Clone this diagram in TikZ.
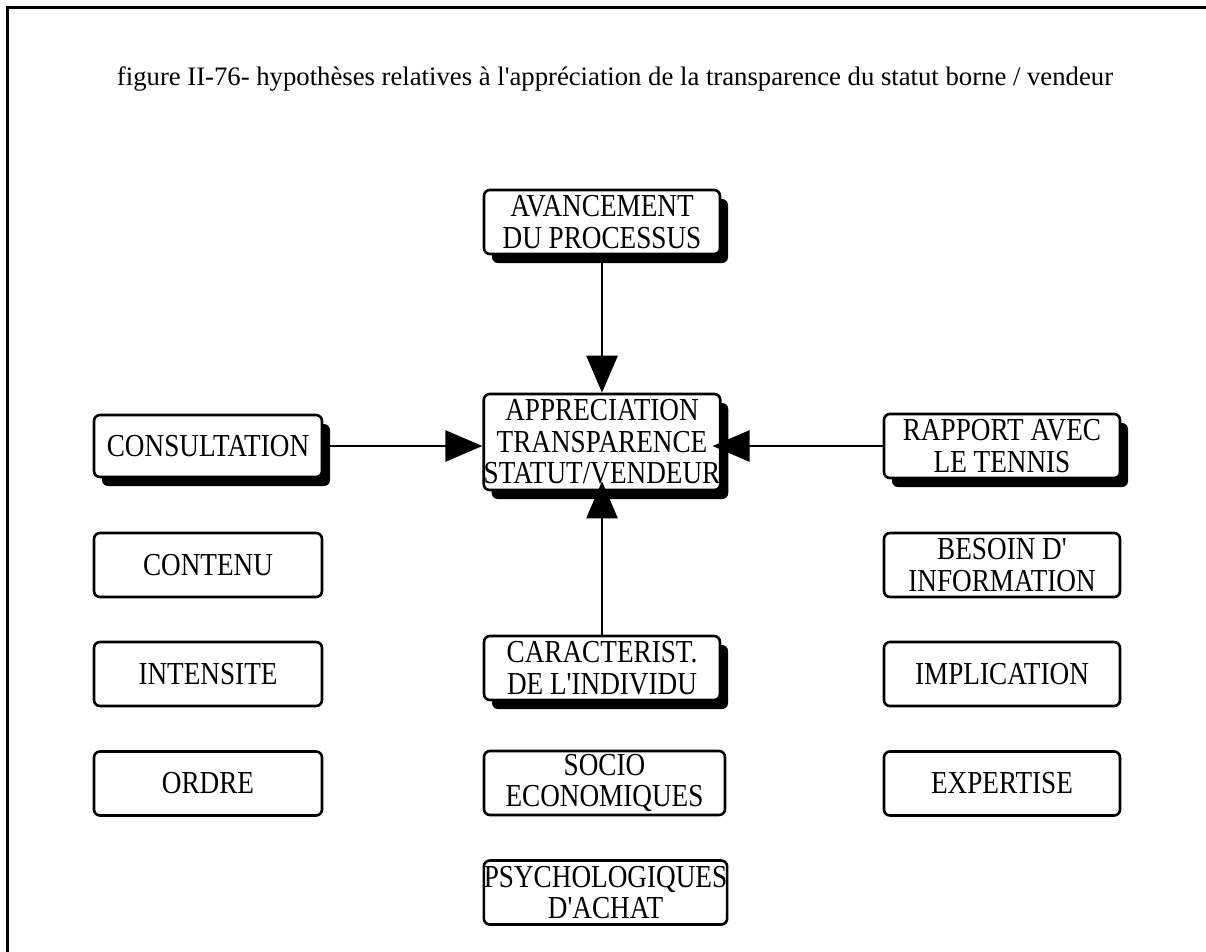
\documentclass[tikz,border=0pt]{standalone}
\usepackage{fontspec}
\setmainfont{Liberation Serif}[Ligatures=TeXOff]
\newfontfamily\boitefont{Liberation Serif}[FakeStretch=0.85,Ligatures=TeXOff]
\usetikzlibrary{arrows.meta,shadows}

\tikzset{
  boite/.style={draw,line width=2.6pt,rounded corners=6pt,fill=white,align=center,
    inner sep=0pt,minimum width=236pt,minimum height=64pt,
    font=\boitefont\fontsize{32}{31.5}\selectfont},
  ombre/.style={boite,drop shadow={shadow xshift=8pt,shadow yshift=-9pt,fill=black,opacity=1}},
  fleche/.style={line width=2.6pt,-{Triangle[length=37pt,width=31pt]}}
}

\begin{document}
\begin{tikzpicture}[x=1pt,y=-1pt]
\useasboundingbox (0,0) rectangle (1206,951);
\draw[line width=3pt] (7,7) rectangle (1240,990);

\node[anchor=base,font=\fontsize{26.7}{30}\selectfont] (titre) at (615,85)
  {figure II-76- hypothèses relatives à l'appréciation de la transparence du statut borne / vendeur};

% colonne du milieu
\node[ombre] (avancement) at (602,222) {AVANCEMENT\\DU PROCESSUS};
\node[ombre,minimum height=96pt] (appreciation) at (602,442) {APPRECIATION\\TRANSPARENCE\\STATUT/VENDEUR};
\node[ombre] (caracterist) at (602,668) {CARACTERIST.\\DE L'INDIVIDU};
\node[boite,minimum width=241pt] (socio) at (604.5,783) {SOCIO\\ECONOMIQUES};
\node[boite,minimum width=243pt] (psycho) at (605.5,892.5) {PSYCHOLOGIQUES\\D'ACHAT};

% colonne de gauche
\node[ombre,minimum width=228pt,minimum height=62pt] (consultation) at (208,446) {CONSULTATION};
\node[boite,minimum width=228pt] (contenu) at (208,565) {CONTENU};
\node[boite,minimum width=228pt] (intensite) at (208,674) {INTENSITE};
\node[boite,minimum width=228pt] (ordre) at (208,783.5) {ORDRE};

% colonne de droite
\node[ombre] (rapport) at (1002,446) {RAPPORT AVEC\\LE TENNIS};
\node[boite] (besoin) at (1002,565) {BESOIN D'\\INFORMATION};
\node[boite] (implication) at (1002,674) {IMPLICATION};
\node[boite] (expertise) at (1002,783.5) {EXPERTISE};

% fleches vers l'appreciation
\draw[fleche] (avancement) -- (appreciation);
\draw[fleche] (consultation.east) -- (consultation.east -| appreciation.west);
\draw[fleche,shorten >=-9pt] (rapport.west) -- (rapport.west -| appreciation.east);
\draw[fleche,shorten >=-10pt] (caracterist) -- (appreciation);
\end{tikzpicture}
\end{document}
